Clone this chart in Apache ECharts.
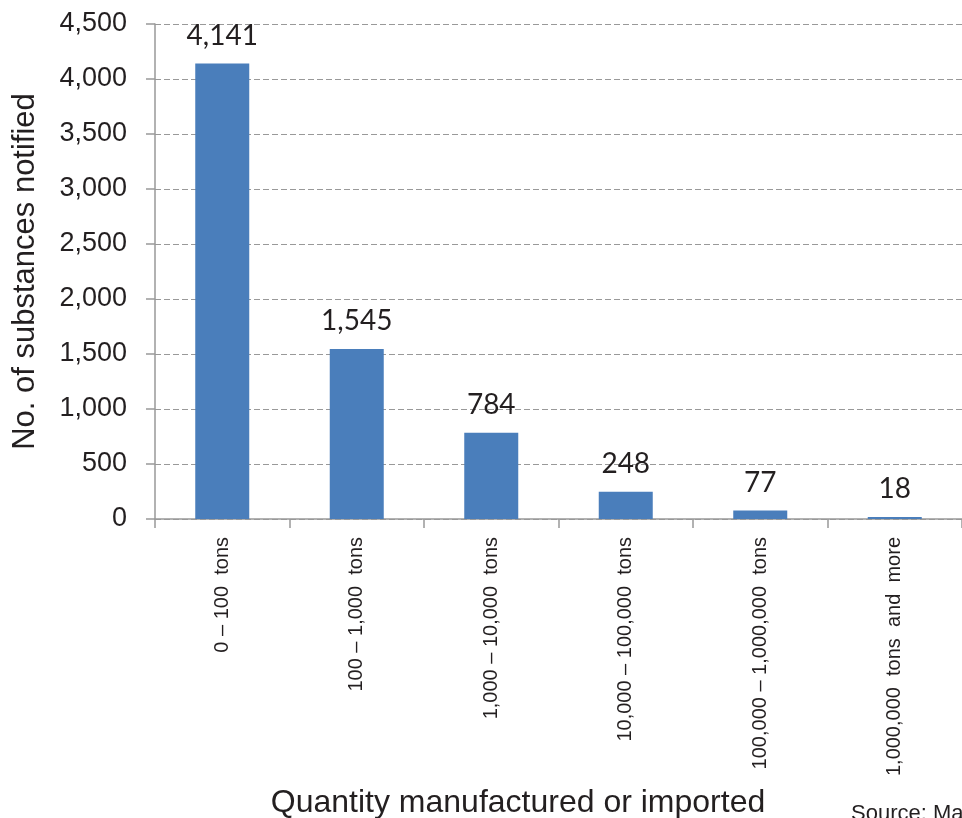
<!DOCTYPE html>
<html><head><meta charset="utf-8">
<script src="https://cdn.jsdelivr.net/npm/echarts@6/dist/echarts.min.js"></script>
<style>html,body{margin:0;padding:0;background:#fff}#c{width:962px;height:818px}</style>
</head><body><div id="c"></div>
<script>
const categories = ['0 – 100  tons', '100 – 1,000  tons', '1,000 – 10,000  tons', '10,000 – 100,000  tons', '100,000 – 1,000,000  tons', '1,000,000  tons  and  more'];
const values = [4141, 1545, 784, 248, 77, 18];
const yTicks = [0, 500, 1000, 1500, 2000, 2500, 3000, 3500, 4000, 4500];
const yTitle = 'No. of substances notified';
const xTitle = 'Quantity manufactured or imported';
const sourceText = 'Source: Ma';

const chart = echarts.init(document.getElementById('c'), null, {renderer: 'canvas'});
const txt = '#231f20';
const fam = '"Liberation Sans", Arial, sans-serif';
chart.setOption({
  animation: false,
  grid: {left: 155, right: -3, top: 24, bottom: 299, containLabel: false},
  xAxis: {
    type: 'category', data: categories, boundaryGap: true,
    axisLine: {lineStyle: {color: '#999', width: 1.5}},
    axisTick: {show: true, length: 9, lineStyle: {color: '#999', width: 1.5}},
    axisLabel: {rotate: 90, margin: 18, color: txt, fontFamily: fam, fontSize: 20, interval: 0}
  },
  yAxis: {
    type: 'value', min: 0, max: yTicks[yTicks.length - 1], interval: yTicks[1] - yTicks[0],
    name: yTitle, nameLocation: 'middle', nameGap: 114,
    nameTextStyle: {color: txt, fontFamily: fam, fontSize: 31},
    axisLine: {show: true, lineStyle: {color: '#999', width: 1.5}},
    axisTick: {show: true, length: 9, lineStyle: {color: '#999', width: 1.5}},
    axisLabel: {margin: 28, color: txt, fontFamily: fam, fontSize: 27,
      formatter: v => v.toLocaleString('en-US')},
    splitLine: {show: true, lineStyle: {color: '#999', type: [6, 3], width: 1.2}}
  },
  series: [{
    type: 'bar', data: values, barWidth: 54,
    itemStyle: {color: '#4a7ebb'},
    label: {show: true, position: 'top', distance: 14, color: txt, fontFamily: 'Lato, Carlito, sans-serif', fontSize: 28,
      formatter: p => p.value.toLocaleString('en-US')}
  }],
  graphic: [
    {type: 'text', x: 518, y: 803, style: {text: xTitle, align: 'center', verticalAlign: 'middle', fill: txt, font: '32px "Liberation Sans", Arial, sans-serif'}},
    {type: 'text', x: 851, y: 825, style: {text: sourceText, align: 'left', verticalAlign: 'bottom', fill: txt, font: '22px "Liberation Sans", Arial, sans-serif'}}
  ]
});
</script></body></html>
